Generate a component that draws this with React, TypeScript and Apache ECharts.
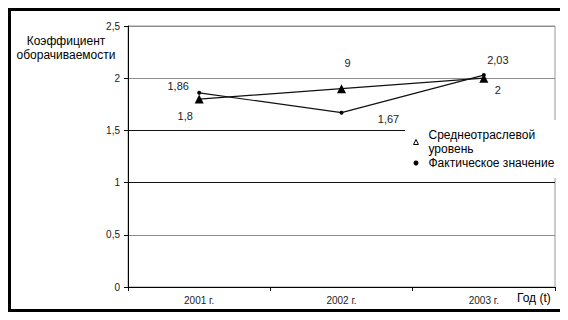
import React, { useEffect, useRef } from "react";
import * as echarts from "echarts";

// Categories and values
const years = ["2001 г.", "2002 г.", "2003 г."];
const industryAverage = [1.8, 1.9, 2.0];
const actualValue = [1.86, 1.67, 2.03];

// Series names (legend)
const industryName = "Среднеотраслевой\nуровень";
const actualName = "Фактическое значение";

// Axis texts
const yTitle = "Коэффициент\nоборачиваемости";
const xTitle = "Год (t)";

// Label placement relative to each point
const industryLabelOffsets = [
  [-14, 17],
  [6, -26],
  [14, 12],
];
const actualLabelOffsets = [
  [-21, -7],
  [47, 6],
  [14, -15],
];

const FONT = "Arial, 'Liberation Sans', sans-serif";
const fmt = (v: number) => String(v).replace(".", ",");

export default function App() {
  const ref = useRef<HTMLDivElement>(null);

  useEffect(() => {
    if (!ref.current) return;
    const chart = echarts.init(ref.current, null, { renderer: "svg" });

    const labelStyle = {
      show: true,
      position: "inside",
      fontSize: 11,
      fontFamily: FONT,
      color: "#222",
    };

    chart.setOption({
      animation: false,
      backgroundColor: "#fff",
      textStyle: { fontFamily: FONT },
      grid: {
        left: 120,
        right: 13,
        top: 18,
        bottom: 33,
        show: true,
        borderColor: "#999",
        borderWidth: 1,
        backgroundColor: "transparent",
      },
      legend: {
        orient: "vertical",
        left: 397,
        top: 112,
        backgroundColor: "#fff",
        padding: [8, 14, 8, 8],
        itemGap: 0,
        itemWidth: 5,
        itemHeight: 5,
        textStyle: {
          fontSize: 12,
          fontFamily: FONT,
          color: "#000",
          lineHeight: 14,
          padding: [0, 0, 0, 5],
        },
        data: [
          {
            name: industryName,
            icon: "triangle",
            itemStyle: { color: "#fff", borderColor: "#000", borderWidth: 1 },
          },
          { name: actualName, icon: "circle" },
        ],
        z: 10,
      },
      xAxis: {
        type: "category",
        data: years,
        boundaryGap: true,
        axisLine: { lineStyle: { color: "#000", width: 1 } },
        axisTick: { show: true, length: 4, lineStyle: { color: "#000" } },
        axisLabel: { fontSize: 10, color: "#222", margin: 8, fontFamily: FONT },
        splitLine: { show: false },
      },
      yAxis: {
        type: "value",
        min: 0,
        max: 2.5,
        interval: 0.5,
        axisLine: { show: true, lineStyle: { color: "#000", width: 1 } },
        axisTick: { show: true, length: 4, lineStyle: { color: "#000" } },
        axisLabel: {
          fontSize: 10,
          color: "#222",
          margin: 8,
          fontFamily: FONT,
          formatter: (v: number) => fmt(v),
        },
        splitLine: {
          show: true,
          lineStyle: {
            color: ["#8c8c8c", "#8c8c8c", "#111", "#111", "#8c8c8c", "#8c8c8c"],
            width: 1,
          },
        },
      },
      series: [
        {
          name: industryName,
          type: "line",
          data: industryAverage.map((v, i) => ({
            value: v,
            label: {
              offset: industryLabelOffsets[i],
              // the 2002 label shows only its last digit
              formatter: i === 1 ? "9" : fmt(v),
            },
          })),
          symbol: "triangle",
          symbolSize: 9,
          itemStyle: { color: "#000" },
          lineStyle: { color: "#111", width: 1.2 },
          label: labelStyle,
          z: 3,
        },
        {
          name: actualName,
          type: "line",
          data: actualValue.map((v, i) => ({
            value: v,
            label: { offset: actualLabelOffsets[i], formatter: fmt(v) },
          })),
          symbol: "circle",
          symbolSize: 4,
          itemStyle: { color: "#000" },
          lineStyle: { color: "#111", width: 1.2 },
          label: labelStyle,
          z: 3,
        },
      ],
      graphic: [
        // outer frame
        { type: "rect", shape: { x: 0, y: 0, width: 560, height: 3 }, style: { fill: "#000" }, z: 20 },
        { type: "rect", shape: { x: 0, y: 0, width: 3, height: 304 }, style: { fill: "#000" }, z: 20 },
        { type: "rect", shape: { x: 0, y: 301, width: 560, height: 3 }, style: { fill: "#000" }, z: 20 },
        {
          type: "text",
          x: 58,
          y: 40,
          style: {
            text: yTitle,
            fontSize: 12,
            fontFamily: FONT,
            fill: "#000",
            lineHeight: 14,
            textAlign: "center",
            textVerticalAlign: "middle",
          },
        },
        {
          type: "text",
          x: 509,
          y: 290,
          style: {
            text: xTitle,
            fontSize: 12,
            fontFamily: FONT,
            fill: "#000",
            textAlign: "left",
            textVerticalAlign: "middle",
          },
        },
      ],
    });

    return () => chart.dispose();
  }, []);

  return <div ref={ref} style={{ width: 560, height: 312 }} />;
}
